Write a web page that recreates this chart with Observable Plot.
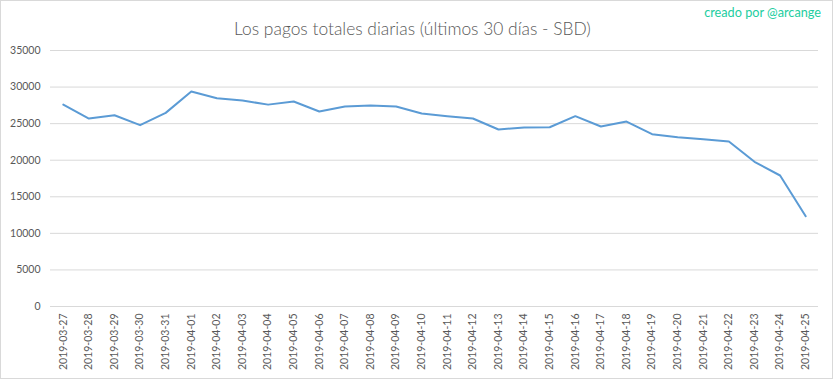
<!DOCTYPE html>
<html>
<head>
<meta charset="utf-8">
<script src="https://cdn.jsdelivr.net/npm/d3@7"></script>
<script src="https://cdn.jsdelivr.net/npm/@observablehq/plot@0.6"></script>
<style>
  html, body { margin: 0; padding: 0; background: #fff; }
  #wrap { position: relative; width: 833px; height: 379px; overflow: hidden; }
  #border { position: absolute; left: 0; top: 0; width: 833px; height: 379px; box-sizing: border-box; border: 1px solid #d9d9d9; pointer-events: none; }
  #title { position: absolute; left: 0; width: 825px; top: 20px; text-align: center; font-family: Lato, sans-serif; font-weight: 300; font-size: 17.4px; color: #595959; line-height: 1; }
  #credit { position: absolute; right: 12px; top: 6px; font-family: Lato, sans-serif; font-size: 12.7px; color: #22cda0; line-height: 1; }
  #chart { position: absolute; left: 0; top: 0; width: 833px; height: 379px; }
</style>
</head>
<body>
<div id="wrap">
  <div id="chart"></div>
  <div id="title">Los pagos totales diarias (últimos 30 días - SBD)</div>
  <div id="credit">creado por @arcange</div>
  <div id="border"></div>
</div>
<script>
const dates = [
  "2019-03-27","2019-03-28","2019-03-29","2019-03-30","2019-03-31",
  "2019-04-01","2019-04-02","2019-04-03","2019-04-04","2019-04-05",
  "2019-04-06","2019-04-07","2019-04-08","2019-04-09","2019-04-10",
  "2019-04-11","2019-04-12","2019-04-13","2019-04-14","2019-04-15",
  "2019-04-16","2019-04-17","2019-04-18","2019-04-19","2019-04-20",
  "2019-04-21","2019-04-22","2019-04-23","2019-04-24","2019-04-25"
];
const payouts = [
  27600, 25700, 26150, 24790, 26470,
  29390, 28480, 28160, 27600, 28020,
  26660, 27340, 27480, 27340, 26380,
  26020, 25700, 24200, 24470, 24510,
  26020, 24610, 25290, 23560, 23150,
  22880, 22560, 19780, 17910, 12350
];
const yTicks = [0, 5000, 10000, 15000, 20000, 25000, 30000, 35000];

const data = dates.map((d, i) => ({date: d, value: payouts[i]}));

const chart = Plot.plot({
  width: 833,
  height: 379,
  marginTop: 50,
  marginBottom: 73,
  marginLeft: 50,
  marginRight: 15,
  style: {fontFamily: "Lato, sans-serif", fontSize: "10.5px", color: "#595959", background: "transparent"},
  x: {type: "point", domain: dates, padding: 0.5, round: false},
  y: {domain: [0, 35000]},
  marks: [
    Plot.gridY(yTicks, {stroke: "#d9d9d9", strokeOpacity: 1}),
    Plot.axisY(yTicks, {tickSize: 0, tickPadding: 10, tickFormat: d3.format("d"), label: null, fill: "#595959"}),
    Plot.axisX(dates, {tickSize: 0, tickPadding: 7, tickRotate: -90, label: null, fill: "#595959"}),
    Plot.line(data, {x: "date", y: "value", stroke: "#5b9bd5", strokeWidth: 2})
  ]
});
document.getElementById("chart").appendChild(chart);
</script>
</body>
</html>
